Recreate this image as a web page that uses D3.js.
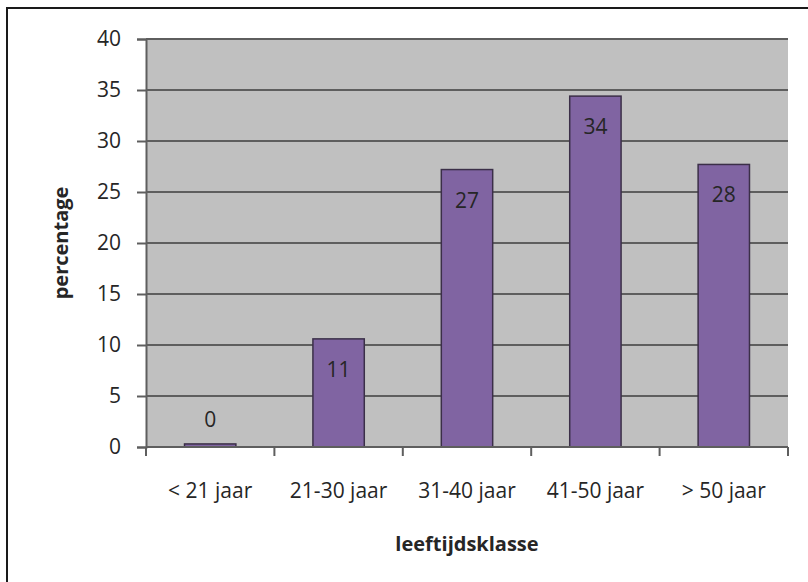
<!DOCTYPE html>
<html>
<head>
<meta charset="utf-8">
<script src="https://cdn.jsdelivr.net/npm/d3@7"></script>
<style>
    body { margin: 0; background: #fff; }
    svg text { font-family: "Open Sans", sans-serif; fill: #262626; }
</style>
</head>
<body>
<div id="chart"></div>
<script>
var categories = ['< 21 jaar', '21-30 jaar', '31-40 jaar', '41-50 jaar', '> 50 jaar'];
var values = [0.3, 10.6, 27.2, 34.4, 27.7];
var valueLabels = ['0', '11', '27', '34', '28'];
var yTicks = [0, 5, 10, 15, 20, 25, 30, 35, 40];

var width = 808, height = 582;
var plot = { left: 146, top: 39, right: 788, bottom: 447 };

var svg = d3.select('#chart').append('svg')
    .attr('width', width)
    .attr('height', height);

// outer chart border (right and bottom fall outside the picture)
svg.append('rect')
    .attr('x', 7).attr('y', 8)
    .attr('width', 820).attr('height', 600)
    .attr('fill', 'none')
    .attr('stroke', '#1a1a1a')
    .attr('stroke-width', 2);

var xScale = d3.scaleBand()
    .domain(categories)
    .range([plot.left, plot.right])
    .paddingInner(0.6)
    .paddingOuter(0.3);

var yScale = d3.scaleLinear()
    .domain([0, 40])
    .range([plot.bottom, plot.top]);

svg.append('rect')
    .attr('x', plot.left).attr('y', plot.top)
    .attr('width', plot.right - plot.left)
    .attr('height', plot.bottom - plot.top)
    .attr('fill', '#c0c0c0');

// gridlines
svg.append('g')
    .selectAll('line')
    .data(yTicks.filter(function (d) { return d > 0; }))
    .join('line')
    .attr('x1', plot.left).attr('x2', plot.right)
    .attr('y1', function (d) { return yScale(d); })
    .attr('y2', function (d) { return yScale(d); })
    .attr('stroke', '#5e5e5e')
    .attr('stroke-width', 2);

// bars
svg.append('g')
    .selectAll('rect')
    .data(values)
    .join('rect')
    .attr('x', function (d, i) { return xScale(categories[i]); })
    .attr('y', function (d) { return yScale(d); })
    .attr('width', xScale.bandwidth())
    .attr('height', function (d) { return yScale(0) - yScale(d); })
    .attr('fill', '#8064a2')
    .attr('stroke', '#3b2f48')
    .attr('stroke-width', 1.5);

// data labels
svg.append('g')
    .selectAll('text')
    .data(values)
    .join('text')
    .attr('x', function (d, i) { return xScale(categories[i]) + xScale.bandwidth() / 2; })
    .attr('y', function (d) {
        var top = yScale(d);
        return (yScale(0) - top) < 40 ? top - 17 : top + 38;
    })
    .attr('text-anchor', 'middle')
    .style('font-size', '21px')
    .text(function (d, i) { return valueLabels[i]; });

// y axis
var yAxis = d3.axisLeft(yScale).tickValues(yTicks).tickSize(9).tickPadding(16);
var yAxisG = svg.append('g')
    .attr('transform', 'translate(' + plot.left + ',0)')
    .call(yAxis);
yAxisG.select('.domain').attr('stroke', '#5e5e5e').attr('stroke-width', 2);
yAxisG.selectAll('.tick line').attr('stroke', '#5e5e5e').attr('stroke-width', 2);
yAxisG.selectAll('.tick text')
    .style('font-size', '21px')
    .style('font-family', '"Open Sans", sans-serif')
    .attr('fill', '#262626');

// x axis line and boundary ticks
var xAxisG = svg.append('g');
xAxisG.append('line')
    .attr('x1', plot.left).attr('x2', plot.right)
    .attr('y1', plot.bottom).attr('y2', plot.bottom)
    .attr('stroke', '#5e5e5e')
    .attr('stroke-width', 2);
var step = xScale.step();
xAxisG.selectAll('line.tick')
    .data(d3.range(categories.length + 1))
    .join('line')
    .attr('class', 'tick')
    .attr('x1', function (i) { return plot.left + i * step; })
    .attr('x2', function (i) { return plot.left + i * step; })
    .attr('y1', plot.bottom).attr('y2', plot.bottom + 9)
    .attr('stroke', '#5e5e5e')
    .attr('stroke-width', 2);
xAxisG.selectAll('text')
    .data(categories)
    .join('text')
    .attr('x', function (d) { return xScale(d) + xScale.bandwidth() / 2; })
    .attr('y', plot.bottom + 51)
    .attr('text-anchor', 'middle')
    .style('font-size', '21px')
    .text(function (d) { return d; });

// axis titles
svg.append('text')
    .attr('x', (plot.left + plot.right) / 2)
    .attr('y', 551)
    .attr('text-anchor', 'middle')
    .style('font-size', '20px')
    .style('font-weight', 'bold')
    .text('leeftijdsklasse');

svg.append('text')
    .attr('transform', 'translate(68,' + ((plot.top + plot.bottom) / 2) + ') rotate(-90)')
    .attr('text-anchor', 'middle')
    .style('font-size', '20px')
    .style('font-weight', 'bold')
    .text('percentage');
</script>
</body>
</html>
